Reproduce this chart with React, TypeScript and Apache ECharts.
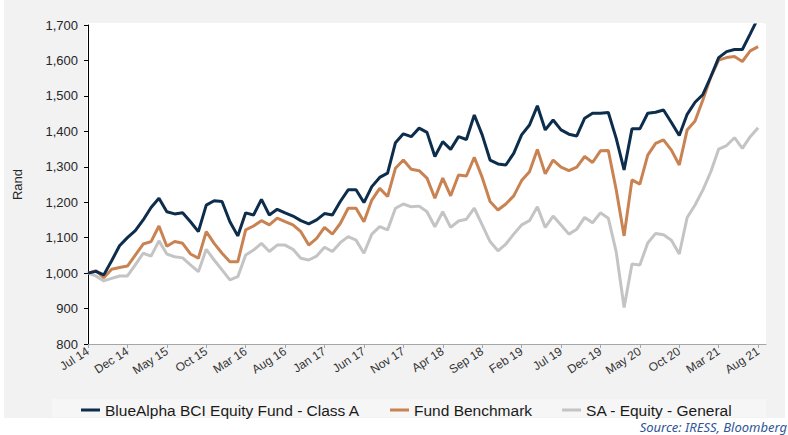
import React, { useEffect, useRef } from "react";
import * as echarts from "echarts";

const MONTHS = ["Jan", "Feb", "Mar", "Apr", "May", "Jun", "Jul", "Aug", "Sep", "Oct", "Nov", "Dec"];
// monthly categories Jul 14 .. Sep 21 (last one is only axis space)
const categories: string[] = [];
for (let i = 0; i < 87; i++) {
  const m = (6 + i) % 12;
  const y = 14 + Math.floor((6 + i) / 12);
  categories.push(`${MONTHS[m]} ${y}`);
}

const seriesNames = ["BlueAlpha BCI Equity Fund - Class A", "Fund Benchmark", "SA - Equity - General"];

const blueAlpha = [
  1000, 1005, 995, 1035, 1077, 1100, 1120, 1150, 1185, 1211, 1173, 1167, 1170, 1145, 1117, 1192, 1204, 1202, 1145, 1105, 1170, 1164, 1208,
  1164, 1180, 1170, 1161, 1148, 1139, 1150, 1168, 1164, 1202, 1235, 1235, 1199, 1244, 1270, 1282, 1368, 1393, 1385, 1409, 1397, 1329,
  1371, 1349, 1385, 1377, 1446, 1390, 1319, 1308, 1305, 1338, 1390, 1418, 1472, 1404, 1432, 1404, 1392, 1387, 1437, 1451, 1451, 1453,
  1380, 1291, 1407, 1407, 1451, 1454, 1460, 1425, 1388, 1448, 1482, 1504, 1554, 1608, 1625, 1631, 1631, 1675, 1720,
];

const benchmark = [
  1000, 1007, 987, 1011, 1016, 1020, 1051, 1082, 1089, 1133, 1076, 1089, 1084, 1054, 1042, 1117, 1084, 1056, 1032, 1032, 1122, 1133, 1148,
  1136, 1155, 1145, 1136, 1117, 1079, 1098, 1129, 1110, 1140, 1183, 1183, 1145, 1206, 1239, 1216, 1296, 1319, 1293, 1289, 1268, 1211,
  1268, 1218, 1277, 1274, 1327, 1270, 1202, 1178, 1195, 1218, 1261, 1286, 1349, 1280, 1319, 1299, 1289, 1299, 1329, 1312, 1345, 1346,
  1235, 1105, 1263, 1251, 1333, 1366, 1376, 1347, 1305, 1404, 1429, 1489, 1554, 1601, 1608, 1611, 1597, 1627, 1639,
];

const saEquity = [
  1000, 992, 978, 985, 992, 992, 1023, 1056, 1048, 1091, 1054, 1046, 1043, 1023, 1004, 1067, 1037, 1009, 981, 990, 1051, 1065, 1084,
  1061, 1079, 1079, 1067, 1042, 1037, 1048, 1073, 1061, 1086, 1103, 1093, 1056, 1110, 1131, 1122, 1183, 1195, 1187, 1189, 1173, 1131,
  1173, 1129, 1147, 1152, 1183, 1136, 1089, 1063, 1082, 1110, 1136, 1148, 1187, 1129, 1161, 1136, 1110, 1124, 1157, 1142, 1170, 1155,
  1060, 903, 1026, 1023, 1085, 1112, 1108, 1093, 1054, 1157, 1192, 1235, 1286, 1350, 1360, 1382, 1352, 1385, 1410,
];

const colors = ["#0c2d4c", "#c98353", "#c4c4c4"];
const FONT = "'Liberation Sans', Arial, sans-serif";

export default function App() {
  const ref = useRef<HTMLDivElement>(null);
  useEffect(() => {
    if (!ref.current) return;
    const chart = echarts.init(ref.current, undefined, { renderer: "svg" });
    const mk = (name: string, data: number[], color: string, z: number) => ({
      name,
      type: "line",
      data,
      showSymbol: false,
      symbol: "none",
      z,
      clip: true,
      lineStyle: { color, width: 3 },
      itemStyle: { color },
    });
    chart.setOption({
      animation: false,
      backgroundColor: "transparent",
      textStyle: { fontFamily: FONT },
      grid: { left: 88, right: 22, top: 25, bottom: 91, containLabel: false },
      legend: {
        left: 76,
        top: 397,
        icon: "rect",
        itemWidth: 19,
        itemHeight: 3,
        itemGap: 30,
        textStyle: { fontSize: 15.5, color: "#1a1a1a", fontFamily: FONT },
        data: seriesNames,
      },
      xAxis: {
        type: "category",
        data: categories,
        boundaryGap: false,
        axisLine: { lineStyle: { color: "#a6a6a6", width: 1 } },
        axisTick: { interval: 4, length: 4, lineStyle: { color: "#a6a6a6" } },
        axisLabel: { interval: 4, rotate: 33, fontSize: 12, color: "#333333", margin: 6, fontFamily: FONT },
        splitLine: { show: false },
      },
      yAxis: {
        type: "value",
        min: 800,
        max: 1700,
        interval: 100,
        name: "Rand",
        nameLocation: "middle",
        nameRotate: 90,
        nameGap: 64,
        nameTextStyle: { fontSize: 13, color: "#262626", fontFamily: FONT },
        axisLine: { show: true, lineStyle: { color: "#000", width: 1 } },
        axisTick: { show: true, length: 4, lineStyle: { color: "#000" } },
        axisLabel: {
          fontSize: 13,
          color: "#262626",
          margin: 10,
          fontFamily: FONT,
          formatter: (v: number) => v.toLocaleString("en-US"),
        },
        splitLine: { show: false },
      },
      graphic: [
        {
          type: "text",
          right: 1,
          top: 420,
          style: {
            text: "Source: IRESS, Bloomberg",
            fill: "#2f5597",
            font: "italic 13px 'Noto Sans', sans-serif",
          },
        },
      ],
      series: [
        mk(seriesNames[2], saEquity, colors[2], 2),
        mk(seriesNames[1], benchmark, colors[1], 3),
        mk(seriesNames[0], blueAlpha, colors[0], 4),
      ],
    });
    return () => chart.dispose();
  }, []);

  return (
    <div style={{ position: "fixed", left: 0, top: 0, width: 788, height: 435, background: "#ffffff", overflow: "hidden" }}>
      <div style={{ position: "absolute", left: 4, top: 0, width: 781, height: 418, background: "#f3f2f3" }} />
      <div style={{ position: "absolute", left: 52, top: 399, width: 714, height: 18, background: "#f6f6f6" }} />
      <div style={{ position: "absolute", left: 87, top: 23, width: 679, height: 321, background: "#ffffff", borderTopRightRadius: 3 }} />
      <div ref={ref} style={{ position: "absolute", left: 0, top: 0, width: 788, height: 435 }} />
    </div>
  );
}
